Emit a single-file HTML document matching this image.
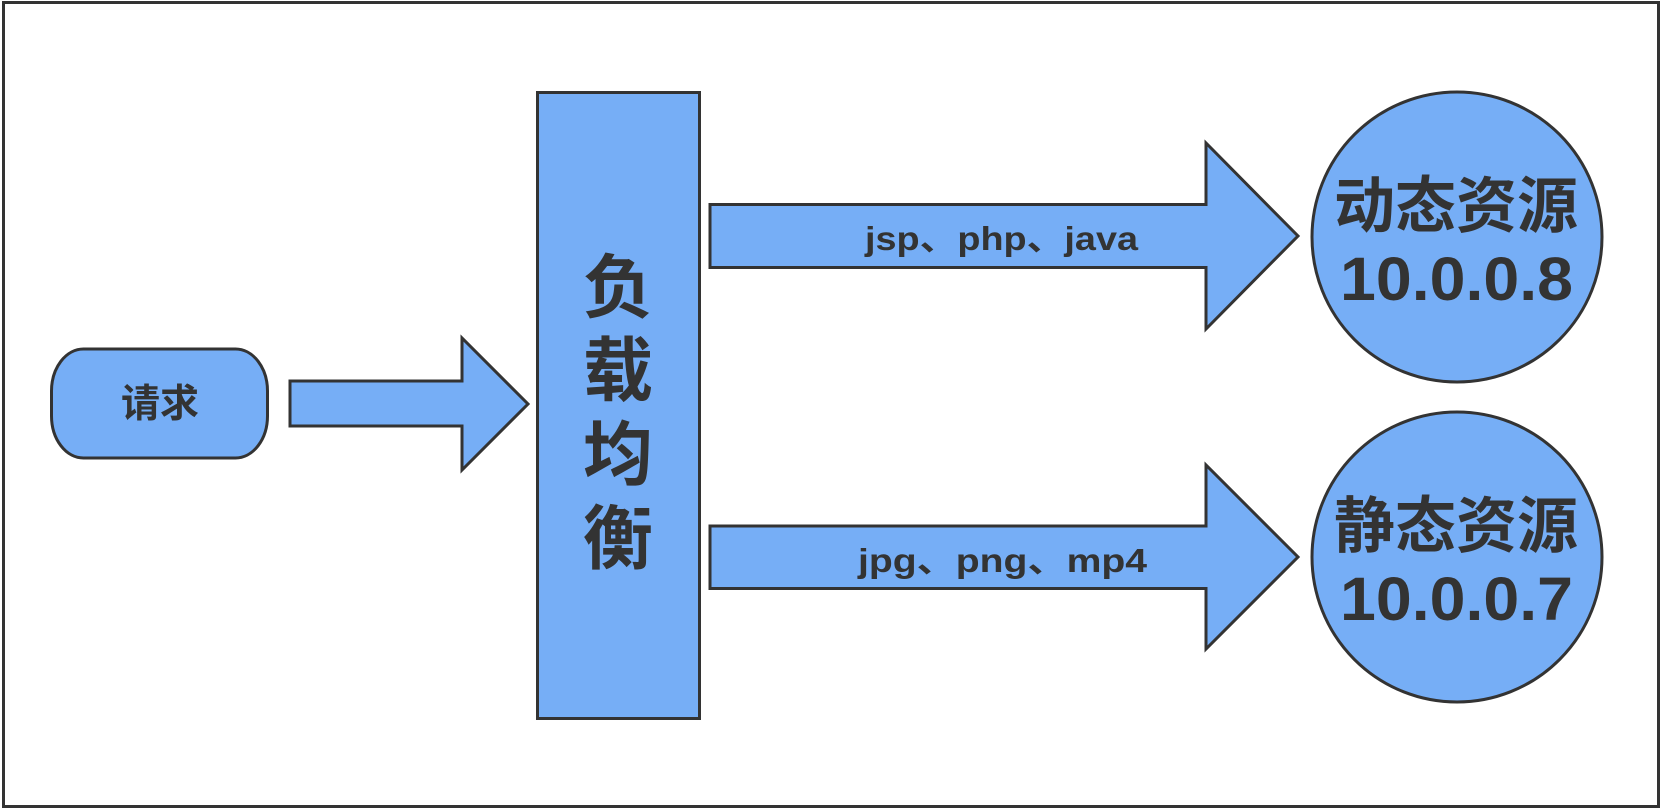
<!DOCTYPE html>
<html>
<head>
<meta charset="utf-8">
<style>
  html, body { margin: 0; padding: 0; background: #ffffff; }
  body { width: 1664px; height: 810px; overflow: hidden; }
  svg { display: block; }
  .cjk { font-family: "Liberation Sans", "Noto Sans CJK SC", sans-serif; font-weight: bold; fill: #333333; }
  .lat { font-family: "Liberation Sans", "Noto Sans CJK SC", sans-serif; font-weight: bold; fill: #333333; }
</style>
</head>
<body>
<svg width="1664" height="810" viewBox="0 0 1664 810" xmlns="http://www.w3.org/2000/svg">
  <rect x="0" y="0" width="1664" height="810" fill="#ffffff"/>
  <!-- outer frame -->
  <rect x="3.5" y="2.5" width="1655" height="804" fill="none" stroke="#333333" stroke-width="3"/>

  <!-- request pill -->
  <rect x="51.5" y="349" width="216" height="109" rx="32" ry="42" fill="#76aef6" stroke="#333333" stroke-width="3"/>
  <text class="cjk" x="160" y="417" font-size="39" text-anchor="middle">请求</text>

  <!-- small arrow -->
  <polygon points="290,381 462,381 462,338 528,404 462,470 462,426 290,426" fill="#76aef6" stroke="#333333" stroke-width="3" stroke-linejoin="miter"/>

  <!-- load balancer -->
  <rect x="537.5" y="92.5" width="162" height="626" fill="#76aef6" stroke="#333333" stroke-width="3"/>
  <text class="cjk" x="618" y="312" font-size="70" text-anchor="middle">负</text>
  <text class="cjk" x="618" y="395" font-size="70" text-anchor="middle">载</text>
  <text class="cjk" x="618" y="479" font-size="70" text-anchor="middle">均</text>
  <text class="cjk" x="618" y="563" font-size="70" text-anchor="middle">衡</text>

  <!-- top arrow -->
  <polygon points="710,204.5 1206,204.5 1206,143 1298,236 1206,329 1206,267.5 710,267.5" fill="#76aef6" stroke="#333333" stroke-width="3"/>
  <text class="lat" x="865" y="250" font-size="33" textLength="273" lengthAdjust="spacingAndGlyphs">jsp、php、java</text>

  <!-- bottom arrow -->
  <polygon points="710,526 1206,526 1206,465 1298,557 1206,649 1206,588.5 710,588.5" fill="#76aef6" stroke="#333333" stroke-width="3"/>
  <text class="lat" x="858" y="572" font-size="33" textLength="289" lengthAdjust="spacingAndGlyphs">jpg、png、mp4</text>

  <!-- top circle -->
  <circle cx="1457" cy="237" r="145" fill="#76aef6" stroke="#333333" stroke-width="3"/>
  <text class="cjk" x="1456" y="227" font-size="61" text-anchor="middle">动态资源</text>
  <text class="lat" x="1340" y="300" font-size="61" textLength="233" lengthAdjust="spacingAndGlyphs">10.0.0.8</text>

  <!-- bottom circle -->
  <circle cx="1457" cy="557" r="145" fill="#76aef6" stroke="#333333" stroke-width="3"/>
  <text class="cjk" x="1456" y="547" font-size="61" text-anchor="middle">静态资源</text>
  <text class="lat" x="1340" y="620" font-size="61" textLength="233" lengthAdjust="spacingAndGlyphs">10.0.0.7</text>
</svg>
</body>
</html>
